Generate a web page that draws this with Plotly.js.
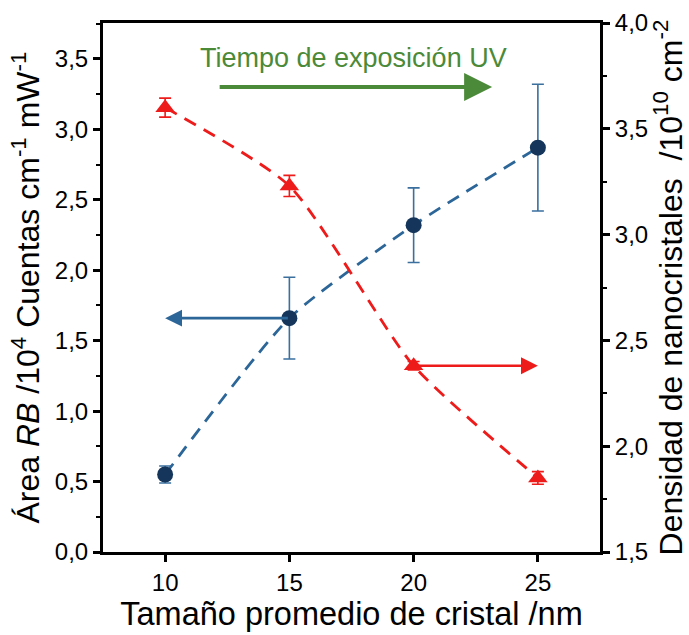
<!DOCTYPE html>
<html>
<head>
<meta charset="utf-8">
<script src="https://cdn.plot.ly/plotly-3.0.1.min.js"></script>
<style>html,body{margin:0;padding:0;background:#fff;}#chart{width:689px;height:635px;}</style>
</head>
<body>
<div id="chart"></div>
<script>
// Data
const crystalSize = [10, 15, 20, 25];
const areaRB = [0.55, 1.66, 2.32, 2.87];
const areaRBErr = [0.06, 0.29, 0.265, 0.45];
const density = [3.60, 3.23, 2.38, 1.85];
const densityErr = [0.045, 0.05, 0.02, 0.03];
const xTicks = [10, 15, 20, 25];
const arrowLabel = 'Tiempo de exposición UV';

const blueLine = '#2c6698';
const blueMarker = '#15365a';
const red = '#ee1b1b';
const green = '#4b8a38';
const FONT = 'Liberation Sans, Arial, sans-serif';

const traces = [
  {
    x: crystalSize, y: areaRB, type: 'scatter', mode: 'lines+markers', yaxis: 'y',
    line: {color: blueLine, width: 2.8, dash: '13px,9px', shape: 'spline', smoothing: 0.6},
    marker: {color: blueMarker, size: 16, symbol: 'circle'},
    error_y: {type: 'data', array: areaRBErr, visible: true, color: '#3a6f9e', thickness: 1.6, width: 6},
    showlegend: false
  },
  {
    x: crystalSize, y: density, type: 'scatter', mode: 'lines+markers', yaxis: 'y2',
    line: {color: red, width: 2.8, dash: '13px,9px', shape: 'spline', smoothing: 0.6},
    marker: {color: red, size: 17, symbol: 'triangle-up'},
    error_y: {type: 'data', array: densityErr, visible: true, color: red, thickness: 1.6, width: 6},
    showlegend: false
  }
];

const layout = {
  width: 689, height: 635,
  margin: {l: 103, r: 89, t: 23, b: 83},
  paper_bgcolor: '#fff', plot_bgcolor: '#fff',
  separators: ',.',
  font: {family: FONT, color: '#000'},
  xaxis: {
    range: [7.5, 27.5], tickvals: xTicks, ticks: 'outside', ticklen: 7, tickwidth: 3, tickcolor: '#000',
    showline: true, linewidth: 3, linecolor: '#000', mirror: true, showgrid: false, zeroline: false,
    tickfont: {size: 24, family: FONT},
    title: {text: 'Tamaño promedio de cristal /nm', font: {size: 32.5, family: FONT}, standoff: 8},
    automargin: false
  },
  yaxis: {
    range: [0, 3.755], dtick: 0.5, tick0: 0, tickformat: '.1f', ticks: 'outside', ticklen: 7, tickwidth: 3, tickcolor: '#000',
    minor: {dtick: 0.25, tick0: 0, ticks: 'outside', ticklen: 4, tickwidth: 2, tickcolor: '#000'},
    showline: true, linewidth: 3, linecolor: '#000', showgrid: false, zeroline: false,
    tickfont: {size: 24, family: FONT},
    title: {text: 'Área <i>RB</i> /10<sup>4</sup> Cuentas cm<sup>-1</sup> mW<sup>-1</sup>', font: {size: 32, family: FONT}, standoff: 6},
    automargin: false
  },
  yaxis2: {
    overlaying: 'y', side: 'right',
    range: [1.5, 4.0], dtick: 0.5, tick0: 0, tickformat: '.1f', ticks: 'outside', ticklen: 7, tickwidth: 3, tickcolor: '#000',
    minor: {dtick: 0.25, tick0: 0, ticks: 'outside', ticklen: 4, tickwidth: 2, tickcolor: '#000'},
    showline: true, linewidth: 3, linecolor: '#000', showgrid: false, zeroline: false,
    tickfont: {size: 24, family: FONT},
    title: {text: 'Densidad de nanocristales  /10<sup>10</sup> cm<sup>-2</sup>', font: {size: 32, family: FONT}, standoff: 6},
    automargin: false
  },
  annotations: [
    {
      xref: 'x', yref: 'y', axref: 'x', ayref: 'y',
      x: crystalSize[0], y: areaRB[1], ax: crystalSize[1], ay: areaRB[1],
      showarrow: true, arrowhead: 2, arrowsize: 1.3, arrowwidth: 2.6, arrowcolor: blueLine, text: ''
    },
    {
      xref: 'x', yref: 'y2', axref: 'x', ayref: 'y2',
      x: crystalSize[3], y: density[2], ax: crystalSize[2], ay: density[2],
      showarrow: true, arrowhead: 2, arrowsize: 1.3, arrowwidth: 2.6, arrowcolor: red, text: ''
    },
    {
      xref: 'paper', yref: 'paper', x: 0.783, y: 0.879, ax: -274, ay: 0,
      showarrow: true, arrowhead: 2, arrowsize: 1.4, arrowwidth: 4, arrowcolor: green, text: ''
    },
    {
      xref: 'paper', yref: 'paper', x: 0.505, y: 0.934, xanchor: 'center', yanchor: 'middle', showarrow: false,
      text: arrowLabel, font: {size: 27, family: FONT, color: green}
    }
  ]
};

Plotly.newPlot('chart', traces, layout, {displayModeBar: false, staticPlot: true});
</script>
</body>
</html>
